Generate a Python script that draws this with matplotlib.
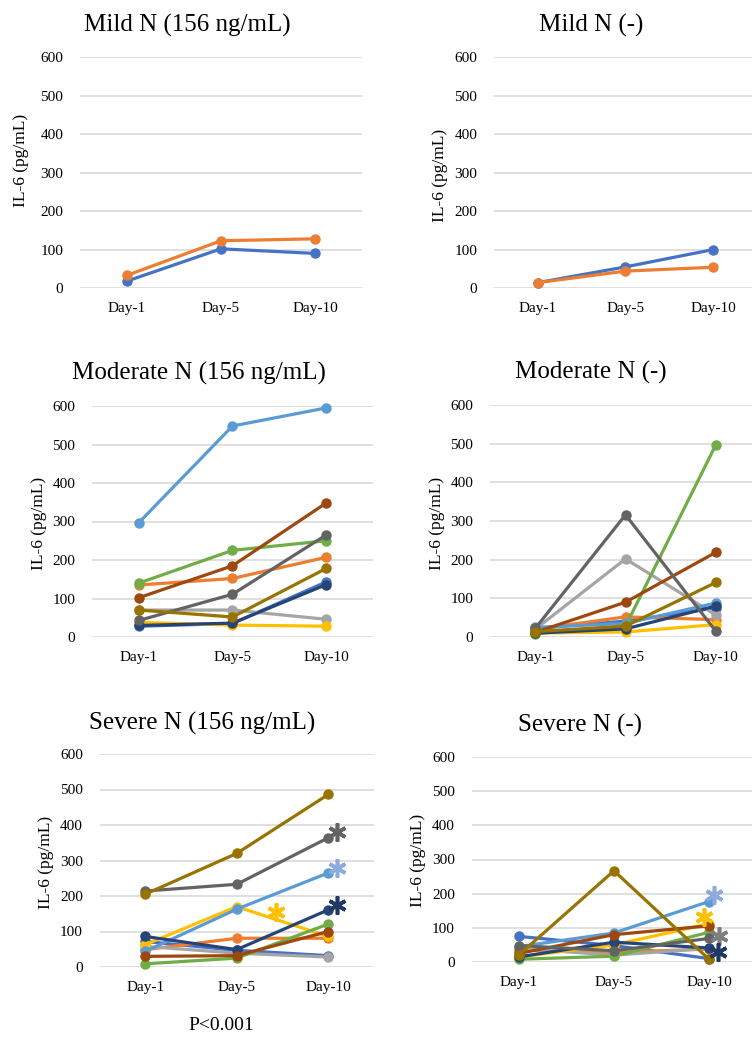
import matplotlib
matplotlib.use("Agg")
import matplotlib.pyplot as plt

plt.rcParams['font.family'] = ['Liberation Serif', 'DejaVu Serif']

W, H = 752, 1043

days = ["Day-1", "Day-5", "Day-10"]
yticks = [0, 100, 200, 300, 400, 500, 600]

# Excel Office palette order
colors = ["#4472C4", "#ED7D31", "#A5A5A5", "#FFC000", "#5B9BD5",
          "#70AD47", "#264478", "#9E480E", "#636363", "#997300"]

mild156_values = [[18, 102, 90],
                  [33, 123, 128]]
mildneg_values = [[14, 55, 100],
                  [14, 44, 54]]

moderate156_values = [[28, 35, 143],
                      [135, 152, 207],
                      [70, 70, 46],
                      [38, 31, 28],
                      [297, 548, 595],
                      [140, 225, 250],
                      [30, 36, 136],
                      [102, 185, 348],
                      [43, 111, 265],
                      [70, 52, 178]]

moderateneg_values = [[22, 41, 75],
                      [20, 52, 45],
                      [20, 202, 57],
                      [10, 13, 32],
                      [25, 35, 88],
                      [9, 28, 497],
                      [10, 21, 80],
                      [12, 90, 219],
                      [22, 316, 15],
                      [14, 28, 141]]

severe156_values = [[72, 47, 32],
                    [49, 81, 81],
                    [58, 39, 28],
                    [63, 170, 86],
                    [44, 163, 265],
                    [9, 25, 121],
                    [86, 49, 161],
                    [30, 32, 100],
                    [214, 233, 364],
                    [205, 320, 486]]

severeneg_values = [[75, 48, 10],
                    [35, 28, 38],
                    [40, 20, 40],
                    [15, 50, 112],
                    [45, 85, 177],
                    [8, 17, 87],
                    [15, 58, 41],
                    [25, 80, 106],
                    [48, 33, 69],
                    [21, 267, 8]]

# significance stars: x position (category units), y value, colour
severe156_star_x = [2.1, 2.1, 2.1, 1.43]
severe156_star_y = [380, 279, 175, 155]
severe156_star_c = ["#636363", "#8FAADC", "#1F3864", "#FFC000"]

severeneg_star_x = [2.05, 1.95, 2.11, 2.1]
severeneg_star_y = [196, 132, 76, 29]
severeneg_star_c = ["#8FAADC", "#FFC000", "#7F7F7F", "#1F3864"]

panels = [
    ("Mild N (156 ng/mL)", mild156_values, (80, 362, 57.5, 288), (187, 25), (21, 160)),
    ("Mild N (-)", mildneg_values, (494, 757, 57.5, 288), (591, 25), (440, 175)),
    ("Moderate N (156 ng/mL)", moderate156_values, (92, 373, 406, 637), (199, 373), (39, 523)),
    ("Moderate N (-)", moderateneg_values, (490, 761, 405, 637), (591, 372), (437, 523)),
    ("Severe N (156 ng/mL)", severe156_values, (99.5, 374, 754, 967), (202, 723), (46, 862)),
    ("Severe N (-)", severeneg_values, (471.5, 756.5, 757, 962), (580, 725), (418, 860)),
]

fig = plt.figure(figsize=(W / 100, H / 100), dpi=100)

axes = []
for title, vals, (l, r, t, b), (tx, ty), (lx, ly) in panels:
    ax = fig.add_axes([l / W, 1 - b / H, (r - l) / W, (b - t) / H])
    x = list(range(len(days)))
    for i, v in enumerate(vals):
        ax.plot(x, v, color=colors[i], lw=2.3, marker='o', ms=6.5,
                clip_on=False, zorder=3 + i * 0.01)
    ax.set_xlim(-0.5, 2.5)
    ax.set_ylim(0, 600)
    ax.set_yticks(yticks)
    ax.set_xticks(x)
    ax.set_xticklabels(days)
    ax.grid(axis='y', color='#D9D9D9', lw=1.2, zorder=0)
    for s in ax.spines.values():
        s.set_visible(False)
    ax.tick_params(length=0, labelsize=11, colors='#000000')
    ax.tick_params(axis='y', pad=12)
    ax.tick_params(axis='x', pad=10)
    fig.text(tx / W, 1 - ty / H, title, fontsize=18, ha='center', va='center')
    fig.text(lx / W, 1 - ly / H, "IL-6 (pg/mL)", fontsize=12.5, rotation=90,
             ha='center', va='center')
    axes.append(ax)

for xs, ys, cs, ax in [(severe156_star_x, severe156_star_y, severe156_star_c, axes[4]),
                       (severeneg_star_x, severeneg_star_y, severeneg_star_c, axes[5])]:
    for sx, sy, sc in zip(xs, ys, cs):
        ax.plot([sx], [sy], linestyle='none', marker=(6, 2, 0), ms=13,
                mew=2.6, color=sc, clip_on=False, zorder=10)

fig.text(221 / W, 1 - 1025 / H, "P<0.001", fontsize=14, ha='center', va='center')

fig.savefig("out.png", dpi=100, facecolor='white')
